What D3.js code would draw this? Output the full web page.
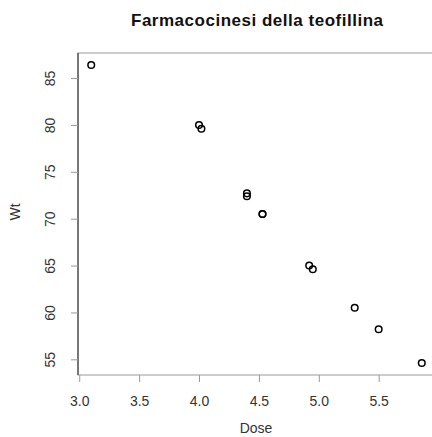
<!DOCTYPE html>
<html lang="it">
<head>
<meta charset="UTF-8">
<title>Farmacocinesi della teofillina</title>
<script src="https://d3js.org/d3.v7.min.js"></script>
<style>
  body { margin: 0; background: #fff; }
  text { font-family: "Liberation Sans", Arial, sans-serif; }
</style>
</head>
<body>
<div id="chart"></div>
<script>
// Theoph: one row per subject
var dose = [4.02, 4.40, 4.53, 4.40, 5.86, 4.00, 4.95, 4.53, 3.10, 5.50, 4.92, 5.30];
var wt   = [79.6, 72.4, 70.5, 72.7, 54.6, 80.0, 64.6, 70.5, 86.4, 58.2, 65.0, 60.5];
var xTicks = [3.0, 3.5, 4.0, 4.5, 5.0, 5.5];
var yTicks = [55, 60, 65, 70, 75, 80, 85];

var W = 432, H = 437;
var margin = {top: 53, right: -3, bottom: 62, left: 78};
var width = W - margin.left - margin.right,
    height = H - margin.top - margin.bottom;

var svg = d3.select("#chart").append("svg")
    .attr("width", W)
    .attr("height", H);

var g = svg.append("g")
    .attr("transform", "translate(" + margin.left + "," + margin.top + ")");

// R style 4% padding
function pad(ext) { var d = (ext[1] - ext[0]) * 0.04; return [ext[0] - d, ext[1] + d]; }

var x = d3.scaleLinear().domain(pad(d3.extent(dose))).range([0, width]);
var y = d3.scaleLinear().domain(pad(d3.extent(wt))).range([height, 0]);

// box
g.append("rect")
    .attr("width", width).attr("height", height)
    .attr("fill", "none").attr("stroke", "#999").attr("stroke-width", 1);
g.append("line").attr("x1", 0).attr("x2", 0).attr("y1", 0).attr("y2", height)
    .attr("stroke", "#222");

var xAxis = g.append("g")
    .attr("transform", "translate(0," + height + ")")
    .call(d3.axisBottom(x).tickValues(xTicks).tickFormat(d3.format(".1f")).tickSize(7).tickPadding(14));
var yAxis = g.append("g")
    .call(d3.axisLeft(y).tickValues(yTicks).tickSize(7).tickPadding(0));

[xAxis, yAxis].forEach(function(a) {
  a.select(".domain").remove();
  a.selectAll(".tick line").attr("stroke", "#999");
  a.selectAll(".tick text").attr("fill", "#333").style("font-size", "14px")
      .style("font-family", "'Liberation Sans', Arial, sans-serif");
});
yAxis.selectAll(".tick text")
    .attr("text-anchor", "middle")
    .attr("x", 0).attr("dy", null)
    .attr("transform", "translate(-23,0) rotate(-90)");

g.selectAll("circle.pt")
    .data(dose)
    .enter().append("circle")
    .attr("class", "pt")
    .attr("cx", function(d) { return x(d); })
    .attr("cy", function(d, i) { return y(wt[i]); })
    .attr("r", 3.3)
    .attr("fill", "none")
    .attr("stroke", "#000")
    .attr("stroke-width", 1.5);

svg.append("text")
    .attr("x", 257).attr("y", 26)
    .attr("text-anchor", "middle")
    .attr("font-weight", "bold")
    .attr("font-size", "17px")
    .attr("textLength", 252)
    .attr("lengthAdjust", "spacing")
    .attr("fill", "#111")
    .text("Farmacocinesi della teofillina");

svg.append("text")
    .attr("x", 256).attr("y", 433)
    .attr("text-anchor", "middle")
    .attr("font-size", "14px")
    .attr("fill", "#333")
    .text("Dose");

svg.append("text")
    .attr("transform", "translate(20,212) rotate(-90)")
    .attr("text-anchor", "middle")
    .attr("font-size", "14px")
    .attr("fill", "#333")
    .text("Wt");
</script>
</body>
</html>
